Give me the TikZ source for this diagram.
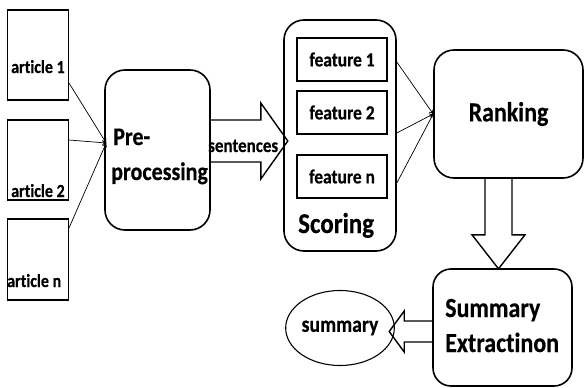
\documentclass[tikz,border=0pt]{standalone}
\usepackage{fontspec}
\setmainfont{Carlito}[FakeStretch=0.87,Ligatures=NoCommon,BoldFeatures={FakeBold=0.4}]
\usetikzlibrary{calc,arrows.meta,shapes.geometric}
\begin{document}
\begin{tikzpicture}[x=1pt,y=-1pt,
  box/.style={draw,line width=1.4pt,inner sep=0pt},
  rbox/.style={draw,line width=1.6pt,rounded corners=20pt,inner sep=0pt},
  fnt/.style={font=\bfseries\fontsize{#1}{#1}\selectfont},
  txt/.style={inner sep=0pt,anchor=base west,fnt=#1},
  thin/.style={line width=0.7pt,-{To[length=4pt,width=5pt]}},
  blk/.style={draw,line width=1.4pt,line join=miter},
]
\useasboundingbox (0,0) rectangle (584,388);

% articles
\node[box,minimum width=61pt,minimum height=90pt] (a1) at (37.8,55) {};
\node[box,minimum width=61pt,minimum height=80pt] (a2) at (37.8,160) {};
\node[box,minimum width=61pt,minimum height=81pt] (an) at (37.8,259.5) {};
\node[txt=18.4] (t1) at (11,73) {article 1};
\node[txt=18.4] (t2) at (11,197) {article 2};
\node[txt=18.4] (tn) at (7,287) {article n};

% pre-processing
\node[rbox,minimum width=105pt,minimum height=160pt] (pre) at (157.5,150) {};
\node[txt=25.3] (pre1) at (113,145) {Pre-};
\node[txt=25.3] (pre2) at (111,180) {processing};
\coordinate (pin) at ($(pre.west)+(2,-7)$);
\draw[thin] ($(a1.east)+(0,28)$) -- (pin);
\draw[thin] ($(a2.east)+(0,-20)$) -- (pin);
\draw[thin] ($(an.east)+(0,-31.5)$) -- (pin);

% scoring
\node[rbox,minimum width=112pt,minimum height=231pt] (scoring) at (340,135.5) {};
\node[box,minimum width=90pt,minimum height=43pt,fnt=20] (f1) at (342,59.5) {feature 1};
\node[box,minimum width=90pt,minimum height=43pt,fnt=20] (f2) at (342,112.5) {feature 2};
\node[box,minimum width=90pt,minimum height=43pt,fnt=20] (fn) at (342,176.5) {feature n};
\node[txt=28.7] (sc) at (298,233) {Scoring};

% sentences arrow
\draw[blk] ($(pre.east)+(0,-30)$) -- ++(50,0) -- ++(0,-17) -- ++(27,38) -- ++(-27,38) -- ++(0,-17) -- ++(-50,0);
\node[txt=19.5] (sent) at (208,152) {sentences};

% ranking
\node[rbox,minimum width=149pt,minimum height=128pt,fnt=27.5] (rank) at (508.5,114) {Ranking};
\draw[thin] ($(scoring.east)+(0,-73.5)$) -- (rank.west);
\draw[thin] ($(scoring.east)+(0,-2.5)$) -- (rank.west);
\draw[thin] ($(scoring.east)+(0,47.5)$) -- (rank.west);

% down arrow
\draw[blk] ($(rank.south)+(-23.5,0)$) -- ++(0,56) -- ++(-13,0) -- ++(26.5,34) -- ++(26.5,-34) -- ++(-13,0) -- ++(0,-56);

% summary extraction
\node[rbox,rounded corners=18pt,minimum width=139pt,minimum height=117pt] (sumx) at (502.5,327.5) {};
\node[txt=27.6] (sx1) at (445,317) {Summary};
\node[txt=27.6] (sx2) at (445,352) {Extractinon};

% summary
\node[draw,ellipse,line width=1.1pt,minimum width=94pt,minimum height=75pt,inner sep=0pt,fnt=22.7] (summ) at (340,328) {summary};
\draw[blk] ($(sumx.west)+(0,-6.5)$) -- ++(-28,0) -- ++(0,-10) -- ++(-15,20.5) -- ++(15,20.5) -- ++(0,-10) -- ++(28,0);
\end{tikzpicture}
\end{document}
